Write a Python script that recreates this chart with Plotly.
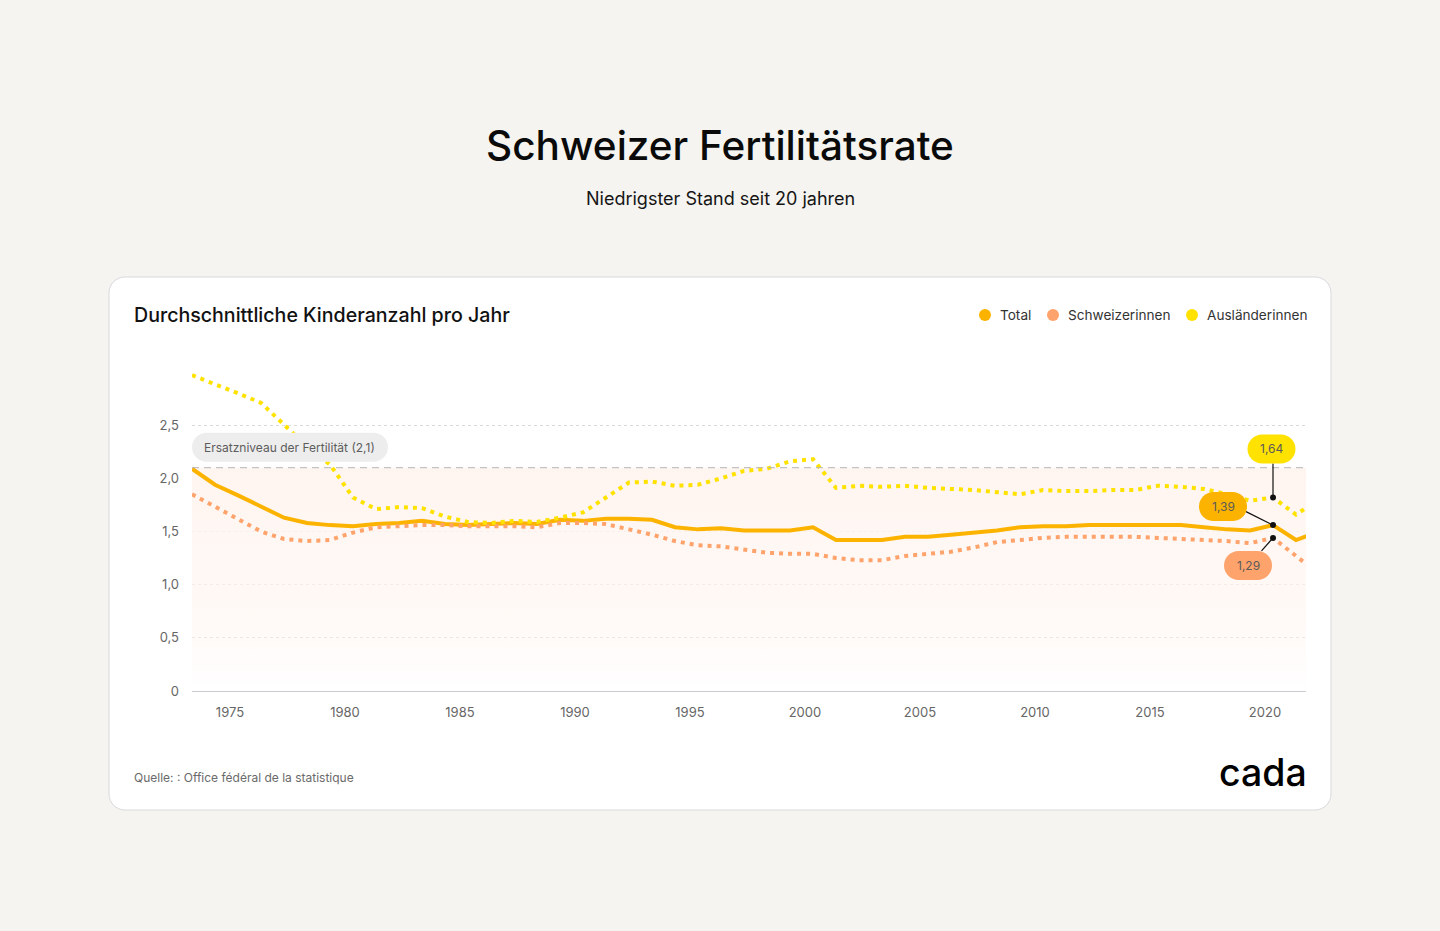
import plotly.graph_objects as go

# ---------------- data ----------------
years = [1973, 1974, 1975, 1976, 1977, 1978, 1979, 1980, 1981, 1982,
         1983, 1984, 1985, 1986, 1987, 1988, 1989, 1990, 1991, 1992,
         1993, 1994, 1995, 1996, 1997, 1998, 1999, 2000, 2001, 2002,
         2003, 2004, 2005, 2006, 2007, 2008, 2009, 2010, 2011, 2012,
         2013, 2014, 2015, 2016, 2017, 2018, 2019, 2020, 2021, 2022]

total = [2.09, 1.94, 1.84, 1.74, 1.63, 1.58, 1.56, 1.55, 1.57, 1.58,
         1.60, 1.57, 1.56, 1.57, 1.58, 1.57, 1.61, 1.60, 1.62, 1.62,
         1.61, 1.54, 1.52, 1.53, 1.51, 1.51, 1.51, 1.54, 1.42, 1.42,
         1.42, 1.45, 1.45, 1.47, 1.49, 1.51, 1.54, 1.55, 1.55, 1.56,
         1.56, 1.56, 1.56, 1.56, 1.54, 1.52, 1.51, 1.56, 1.42, 1.50]

swiss = [1.85, 1.73, 1.61, 1.50, 1.43, 1.41, 1.42, 1.49, 1.54, 1.55,
         1.56, 1.56, 1.55, 1.55, 1.55, 1.54, 1.58, 1.58, 1.57, 1.52,
         1.47, 1.41, 1.37, 1.36, 1.33, 1.30, 1.29, 1.29, 1.25, 1.23,
         1.23, 1.27, 1.29, 1.31, 1.35, 1.40, 1.42, 1.44, 1.45, 1.45,
         1.45, 1.45, 1.44, 1.43, 1.42, 1.41, 1.39, 1.44, 1.27, 1.10]

foreign = [2.97, 2.89, 2.80, 2.71, 2.50, 2.30, 2.13, 1.82, 1.71, 1.73,
           1.72, 1.64, 1.59, 1.58, 1.60, 1.59, 1.63, 1.68, 1.82, 1.96,
           1.97, 1.93, 1.94, 2.00, 2.07, 2.09, 2.16, 2.18, 1.91, 1.93,
           1.92, 1.93, 1.91, 1.90, 1.89, 1.87, 1.85, 1.89, 1.88, 1.88,
           1.89, 1.89, 1.93, 1.92, 1.90, 1.85, 1.79, 1.82, 1.66, 1.80]

series_names = ["Total", "Schweizerinnen", "Ausländerinnen"]
series_colors = ["#FCB300", "#FFA36C", "#FFE200"]

tick_years = [1975, 1980, 1985, 1990, 1995, 2000, 2005, 2010, 2015, 2020]
y_tick_vals = [0, 0.5, 1.0, 1.5, 2.0, 2.5]
y_tick_text = ["0", "0,5", "1,0", "1,5", "2,0", "2,5"]

replacement_level = 2.1
replacement_label = "Ersatzniveau der Fertilität (2,1)"

highlight_year = 2020
highlight_labels = ["1,39", "1,29", "1,64"]   # Total, Schweizerinnen, Ausländerinnen

title = "Schweizer Fertilitätsrate"
subtitle = "Niedrigster Stand seit 20 jahren"
chart_title = "Durchschnittliche Kinderanzahl pro Jahr"
source = "Quelle: : Office fédéral de la statistique"
logo = "cada"

# ---------------- layout geometry (pixels) ----------------
W, H = 1440, 931
PL, PR, PT, PB = 192, 1306, 372, 691   # plot area edges


def px_x(px):
    return (px - PL) / (PR - PL)


def px_y(py):
    return (PB - py) / (PB - PT)


def pill(cx, cy, w, h):
    r = h / 2.0
    k = 0.5523 * r
    x0, x1 = cx - w / 2.0, cx + w / 2.0
    y0, y1 = cy - h / 2.0, cy + h / 2.0
    return (f"M{x0 + r},{y1} L{x1 - r},{y1} "
            f"C{x1 - r + k},{y1} {x1},{cy + k} {x1},{cy} "
            f"C{x1},{cy - k} {x1 - r + k},{y0} {x1 - r},{y0} "
            f"L{x0 + r},{y0} "
            f"C{x0 + r - k},{y0} {x0},{cy - k} {x0},{cy} "
            f"C{x0},{cy + k} {x0 + r - k},{y1} {x0 + r},{y1} Z")


def rrect(x0, y0, x1, y1, r):
    k = 0.5523 * r
    return (f"M{x0 + r},{y1} L{x1 - r},{y1} C{x1 - r + k},{y1} {x1},{y1 - r + k} {x1},{y1 - r} "
            f"L{x1},{y0 + r} C{x1},{y0 + r - k} {x1 - r + k},{y0} {x1 - r},{y0} "
            f"L{x0 + r},{y0} C{x0 + r - k},{y0} {x0},{y0 + r - k} {x0},{y0 + r} "
            f"L{x0},{y1 - r} C{x0},{y1 - r + k} {x0 + r - k},{y1} {x0 + r},{y1} Z")


FONT = "Inter, 'Noto Sans', sans-serif"

fig = go.Figure()

# soft gradient band below replacement level
fig.add_trace(go.Scatter(
    x=[years[0], years[-1]], y=[replacement_level, replacement_level],
    mode="lines", line=dict(width=0), fill="tozeroy",
    fillgradient=dict(type="vertical", start=0, stop=replacement_level,
                      colorscale=[[0, "rgba(255,245,240,0)"],
                                  [0.3, "rgba(255,245,240,0.55)"],
                                  [1, "rgba(255,245,240,1)"]]),
    hoverinfo="skip", showlegend=False))

# data lines
fig.add_trace(go.Scatter(x=years, y=total, mode="lines", name=series_names[0],
                         line=dict(color=series_colors[0], width=4),
                         showlegend=False))
fig.add_trace(go.Scatter(x=years, y=swiss, mode="lines", name=series_names[1],
                         line=dict(color=series_colors[1], width=4, dash="4px,5px"),
                         showlegend=False))
fig.add_trace(go.Scatter(x=years, y=foreign, mode="lines", name=series_names[2],
                         line=dict(color=series_colors[2], width=4, dash="4px,5px"),
                         showlegend=False))

# highlighted points
idx = years.index(highlight_year)
hl_vals = [total[idx], swiss[idx], foreign[idx]]
fig.add_trace(go.Scatter(x=[highlight_year] * 3, y=hl_vals, mode="markers",
                         marker=dict(color="#111111", size=6),
                         hoverinfo="skip", showlegend=False))

shapes = []
annotations = []

# card
shapes.append(dict(type="path", xref="paper", yref="paper",
                   xsizemode="pixel", ysizemode="pixel", xanchor=0, yanchor=0,
                   path=rrect(109 - PL, -(810 - PB), 1331 - PL, PB - 277, 16),
                   fillcolor="#FFFFFF", line=dict(color="#D9D9DC", width=1),
                   layer="below"))
# replacement level dashed line
shapes.append(dict(type="line", xref="paper", yref="y", x0=0, x1=1,
                   y0=replacement_level, y1=replacement_level,
                   line=dict(color="#B4B4B4", width=1, dash="7px,5px"),
                   layer="above"))
# replacement label pill
shapes.append(dict(type="path", xref="paper", yref="y",
                   xsizemode="pixel", ysizemode="pixel", xanchor=0,
                   yanchor=replacement_level,
                   path=pill(98, 20.5, 196, 29),
                   fillcolor="#EDEDED", line=dict(width=0), layer="above"))

# legend (dot + label)
legend_dot_px = [985, 1053, 1192]
for nm, col, dx in zip(series_names, series_colors, legend_dot_px):
    shapes.append(dict(type="circle", xref="paper", yref="paper",
                       xsizemode="pixel", ysizemode="pixel",
                       xanchor=px_x(dx), yanchor=px_y(315),
                       x0=-6, x1=6, y0=-6, y1=6,
                       fillcolor=col, line=dict(width=0), layer="above"))
    annotations.append(dict(x=px_x(dx + 13), y=px_y(315), xref="paper", yref="paper",
                            text=nm, showarrow=False, xanchor="left", yanchor="middle",
                            font=dict(size=13.6, color="#333333", family=FONT)))

# bubbles: (dx, dy) of bubble centre relative to point, connector start
bubble_geo = [
    (-50, 18.5, (-27, 13.5)),    # Total
    (-25, -27.5, (-11.5, -13)),  # Schweizerinnen
    (-1.5, 48.5, (0, 34)),       # Ausländerinnen
]
for val, col, lab, (dx, dy, (lx, ly)) in zip(hl_vals, series_colors,
                                             highlight_labels, bubble_geo):
    shapes.append(dict(type="line", xref="x", yref="y",
                       xsizemode="pixel", ysizemode="pixel",
                       xanchor=highlight_year, yanchor=val,
                       x0=lx, y0=ly, x1=0, y1=0,
                       line=dict(color="#111111", width=1.2), layer="above"))
    shapes.append(dict(type="path", xref="x", yref="y",
                       xsizemode="pixel", ysizemode="pixel",
                       xanchor=highlight_year, yanchor=val,
                       path=pill(dx, dy, 48, 29),
                       fillcolor=col, line=dict(width=0), layer="above"))
    annotations.append(dict(x=highlight_year, y=val, xref="x", yref="y",
                            text=lab, showarrow=False, xshift=dx, yshift=dy,
                            font=dict(size=12, color="#5A5A5A", family=FONT)))

annotations.append(dict(x=0, y=replacement_level, xref="paper", yref="y",
                        xanchor="left", yanchor="middle", xshift=10, yshift=20.5,
                        text=replacement_label, showarrow=False,
                        font=dict(size=12, color="#5C5C5C", family=FONT)))

annotations.append(dict(x=px_x(720), y=px_y(199), xref="paper", yref="paper",
                        text=subtitle, showarrow=False, xanchor="center",
                        yanchor="middle",
                        font=dict(size=18, color="#151515", family=FONT)))
annotations.append(dict(x=px_x(132), y=px_y(315), xref="paper", yref="paper",
                        text=chart_title, showarrow=False, xanchor="left",
                        yanchor="middle",
                        font=dict(size=19.6, color="#111111", family=FONT, weight=500)))
annotations.append(dict(x=px_x(132), y=px_y(777), xref="paper", yref="paper",
                        text=source, showarrow=False, xanchor="left",
                        yanchor="middle",
                        font=dict(size=12, color="#6A6A6A", family=FONT)))
annotations.append(dict(x=px_x(1309), y=px_y(772), xref="paper", yref="paper",
                        text=logo, showarrow=False, xanchor="right",
                        yanchor="middle",
                        font=dict(size=37.5, color="#000000", family=FONT, weight=500)))

fig.update_layout(
    width=W, height=H,
    margin=dict(l=PL, r=W - PR, t=PT, b=H - PB, pad=0),
    paper_bgcolor="#F5F4F0",
    plot_bgcolor="rgba(0,0,0,0)",
    font=dict(family=FONT, color="#333333"),
    hovermode=False,
    showlegend=False,
    title=dict(text=title, x=0.5, xref="container", xanchor="center",
               y=1 - 146 / H, yref="container", yanchor="middle",
               font=dict(size=40.5, color="#0A0A0A", family=FONT, weight=500)),
    xaxis=dict(range=[years[0], years[0] + (PR - PL) / 23.0],
               tickvals=[y - 0.35 for y in tick_years],
               ticktext=[str(y) for y in tick_years],
               showgrid=False, zeroline=False, showline=True,
               linecolor="#C9CAD2", linewidth=1, ticks="",
               ticklabelstandoff=9,
               tickfont=dict(size=13, color="#666666", family=FONT)),
    yaxis=dict(range=[0, 3.0], tickvals=y_tick_vals, ticktext=y_tick_text,
               showgrid=True, gridcolor="#DADADA", griddash="dot", gridwidth=1,
               zeroline=False, showline=False, ticks="",
               ticklabelstandoff=12,
               tickfont=dict(size=13, color="#666666", family=FONT)),
    shapes=shapes,
    annotations=annotations,
)

fig.write_html("out.html", config={"displayModeBar": False},
               post_script="document.body.style.margin='0';document.body.style.overflow='hidden';")
